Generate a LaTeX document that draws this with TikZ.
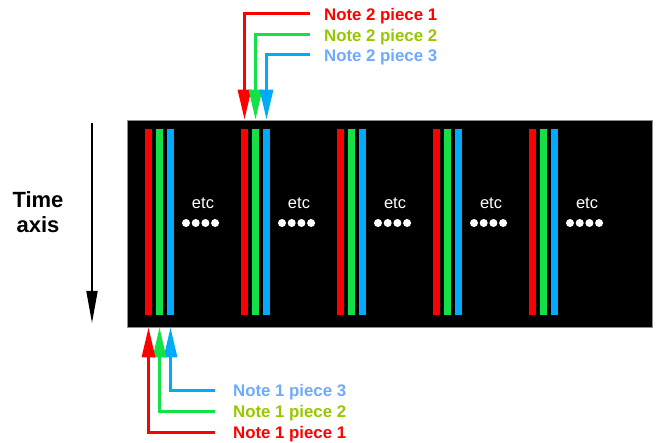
\documentclass[tikz,border=0pt]{standalone}
\usepackage{fontspec}
\setmainfont{Liberation Sans}
\usetikzlibrary{arrows.meta}
\definecolor{notered}{RGB}{255,0,0}
\definecolor{notegreen}{RGB}{20,225,70}
\definecolor{noteblue}{RGB}{0,170,250}
\definecolor{textgreen}{RGB}{150,200,0}
\definecolor{textblue}{RGB}{110,170,255}

\begin{document}
\begin{tikzpicture}[x=1pt, y=-1pt,
        bar/.style={rectangle,minimum width=7pt,minimum height=186pt,inner sep=0pt},
        note/.style={anchor=west,inner ysep=0pt,text depth=0pt,
          font=\fontsize{16.8}{19}\selectfont\bfseries},
        pointer/.style={line width=3pt,-{Triangle[length=30pt,width=13pt]}},
        dot/.style={circle,fill=white,minimum size=8pt,inner sep=0pt}]
        \useasboundingbox (0,0) rectangle (658,443);
        \node[fill=black,draw=black!45,line width=0.6pt,minimum width=525pt,
          minimum height=207pt,inner sep=0pt] (frame) at (389.5,223.5) {};
        % five groups of pieces
        \foreach \i in {1,...,5} {
          \pgfmathsetmacro\xx{148.5+96*(\i-1)}
          \node[bar,fill=notered] (r\i) at (\xx,222) {};
          \node[bar,fill=notegreen] (g\i) at (\xx+11,222) {};
          \node[bar,fill=noteblue] (b\i) at (\xx+22,222) {};
          \node[text=white,font=\fontsize{16.5}{18}\selectfont] (etc\i) at (\xx+54.5,203) {etc};
          \foreach \k in {0,...,3}
            \node[dot] (d\i\k) at (\xx+37.5+9.7*\k,223) {};
        }
        \node[note,text=notered,inner xsep=14pt] (n2p1) at (310,14) {Note 2 piece 1};
        \node[note,text=textgreen,inner xsep=14pt] (n2p2) at (310,35) {Note 2 piece 2};
        \node[note,text=textblue,inner xsep=14pt] (n2p3) at (310,55) {Note 2 piece 3};
        \draw[pointer,notered] (n2p1.west) -| (r2 |- frame.north);
        \draw[pointer,notegreen] (n2p2.west) -| (g2 |- frame.north);
        \draw[pointer,noteblue] (n2p3.west) -| (b2 |- frame.north);
        \node[note,text=textblue,inner xsep=18pt] (n1p3) at (215,390) {Note 1 piece 3};
        \node[note,text=textgreen,inner xsep=18pt] (n1p2) at (215,411) {Note 1 piece 2};
        \node[note,text=notered,inner xsep=18pt] (n1p1) at (215,432) {Note 1 piece 1};
        \draw[pointer,noteblue] (n1p3.west) -| (b1 |- frame.south);
        \draw[pointer,notegreen] (n1p2.west) -| (g1 |- frame.south);
        \draw[pointer,notered] (n1p1.west) -| (r1 |- frame.south);
        % time axis
        \node[font=\fontsize{22}{25}\selectfont\bfseries,align=center] (time) at (38,212) {Time\\axis};
        \coordinate (tstart) at (92,123);
        \coordinate (tend) at (92,323);
        \draw[line width=1.8pt,-{Triangle[length=32pt,width=11pt]}] (tstart) -- (tend);
      \end{tikzpicture}
\end{document}
